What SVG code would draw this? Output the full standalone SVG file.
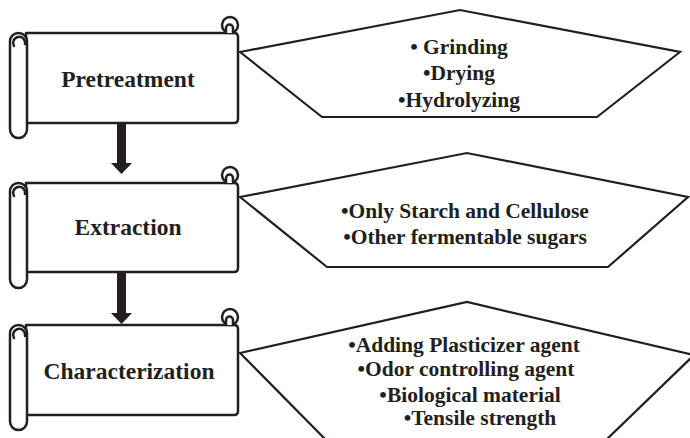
<svg xmlns="http://www.w3.org/2000/svg" width="690" height="438" viewBox="0 0 690 438">
<style>
.s{fill:#fff;stroke:#231f20;stroke-width:2.5;stroke-linejoin:round;stroke-linecap:round}
.h{fill:#fff;stroke:#231f20;stroke-width:2.2;stroke-linejoin:miter}
.t{font-weight:bold;fill:#231f20;text-anchor:middle}
.n{font-size:23.5px}
.b{font-size:21.5px}
.a{fill:#231f20}
</style>
<defs>
<g id="curl">
<circle cx="0" cy="0" r="8" class="s"/>
<path d="M-4,8 L-4,3 A3.5,3.5 0 0 1 3,3 L3,8" class="s" fill="none"/>
</g>
</defs>

<g font-family="'Liberation Serif', 'Times New Roman', 'DejaVu Serif', serif">
<g id="node-pretreatment">
<path class="s" d="M26,33 H234 Q238,33 238,37 V119 Q238,123 234,123 H26 Z"/>
<use href="#curl" x="230" y="25"/>
<rect class="s" x="10" y="33" width="17" height="105" rx="8.5"/>
<path class="s" fill="none" d="M14,46 A6,6 0 1 1 25,44"/>
<text class="t n" x="128" y="87">Pretreatment</text>
</g>

<g id="node-extraction">
<path class="s" d="M26,183 H234 Q238,183 238,187 V268 Q238,272 234,272 H26 Z"/>
<use href="#curl" x="230" y="175"/>
<rect class="s" x="10" y="183" width="17" height="105" rx="8.5"/>
<path class="s" fill="none" d="M14,196 A6,6 0 1 1 25,194"/>
<text class="t n" x="128" y="235">Extraction</text>
</g>

<g id="node-characterization">
<path class="s" d="M26,325 H234 Q238,325 238,329 V411 Q238,415 234,415 H26 Z"/>
<use href="#curl" x="230" y="317"/>
<rect class="s" x="10" y="325" width="17" height="105" rx="8.5"/>
<path class="s" fill="none" d="M14,338 A6,6 0 1 1 25,336"/>
<text class="t n" x="129" y="379">Characterization</text>
</g>

<g id="detail-pretreatment">
<polygon class="h" points="240,52 460,10 680,52 597,117 322,117"/>
<text class="t b" x="459" y="54">• Grinding</text>
<text class="t b" x="459" y="80">•Drying</text>
<text class="t b" x="459" y="107">•Hydrolyzing</text>
</g>

<g id="detail-extraction">
<polygon class="h" points="240,197 467,153 688,197 608,267 327,267"/>
<text class="t b" x="465" y="218">•Only Starch and Cellulose</text>
<text class="t b" x="465" y="244">•Other fermentable sugars</text>
</g>

<g id="detail-characterization">
<polygon class="h" points="240,353 467,302 694,355 604,442 328,442"/>
<text class="t b" x="464" y="352">•Adding Plasticizer agent</text>
<text class="t b" x="466" y="376">•Odor controlling agent</text>
<text class="t b" x="470" y="402">•Biological material</text>
<text class="t b" x="480" y="425">•Tensile strength</text>
</g>
</g>

<g id="connectors">
<path class="a" d="M117,124 H126 V163 H132 L121.5,174 L111,163 H117 Z"/>
<path class="a" d="M117,273 H126 V313 H132 L121.5,324 L111,313 H117 Z"/>
</g>
</svg>
